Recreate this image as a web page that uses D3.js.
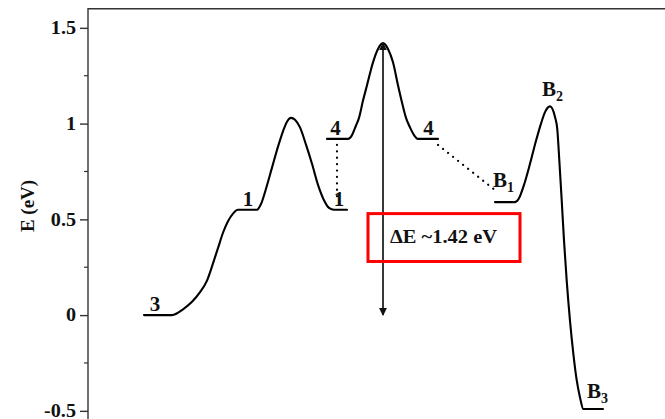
<!DOCTYPE html>
<html>
<head>
<meta charset="utf-8">
<script src="https://cdn.jsdelivr.net/npm/d3@7"></script>
<style>
  body { margin: 0; background: #fff; }
  svg text { font-family: "Liberation Serif", "DejaVu Serif", serif; font-weight: bold; fill: #111; }
</style>
</head>
<body>
<svg id="chart" width="665" height="419"></svg>
<script>
// Energy axis ticks (eV)
const yTicks = [-0.5, 0, 0.5, 1, 1.5];
const yMinorTicks = [-0.25, 0.25, 0.75, 1.25];
const yTickLabels = ["-0.5", "0", "0.5", "1", "1.5"];

// Reaction path, first branch: 3 -> 1 -> TS -> 1
const pathA_rc = [56, 84, 95, 112, 119, 125, 130, 135, 140, 145, 150, 169, 173, 178, 184, 190, 195, 199, 203, 207, 212, 218, 224, 230, 236, 241, 246, 259];
const pathA_E  = [0, 0, 0.03, 0.12, 0.18, 0.27, 0.35, 0.43, 0.49, 0.53, 0.55, 0.55, 0.58, 0.66, 0.77, 0.88, 0.96, 1.01, 1.03, 1.02, 0.98, 0.89, 0.79, 0.68, 0.60, 0.56, 0.55, 0.55];

// Second branch: 4 -> TS -> 4
const pathB_rc = [239, 260, 264, 268, 271, 275, 279, 285, 290, 295, 300, 305, 310, 314, 318, 322, 326, 330, 350];
const pathB_E  = [0.92, 0.92, 0.94, 0.99, 1.03, 1.12, 1.20, 1.32, 1.39, 1.42, 1.39, 1.32, 1.20, 1.11, 1.03, 0.98, 0.94, 0.92, 0.92];

// Third branch: B1 -> B2 -> B3
const pathC_rc = [407, 427, 431, 436, 442, 448, 453, 457, 462, 467, 469.3, 471.3, 473.7, 476, 478.7, 482, 485.3, 488.7, 492, 495.3, 515];
const pathC_E  = [0.59, 0.59, 0.61, 0.68, 0.79, 0.91, 1.00, 1.06, 1.09, 1.035, 0.97, 0.81, 0.60, 0.39, 0.18, -0.03, -0.20, -0.34, -0.43, -0.49, -0.49];

// Dotted connections between equivalent states
const linkFrom_rc = [249, 350];
const linkFrom_E  = [0.92, 0.92];
const linkTo_rc   = [249, 407];
const linkTo_E    = [0.55, 0.59];

// State labels
const stateNames = ["3", "1", "4", "1", "4", "B", "B", "B"];
const stateSubs  = ["", "", "", "", "", "1", "2", "3"];
const state_rc   = [67, 160, 247.5, 251, 340.5, 405, 454, 499];
const state_E    = [0, 0.55, 0.92, 0.55, 0.92, 0.59, 1.09, -0.49];

// Activation energy annotation
const barrierLow = 0;
const barrierHigh = 1.42;
const barrier_rc = 295;
const barrierText = "\u0394E ~1.42 eV";

const svg = d3.select("#chart");

const x = d3.scaleLinear().domain([0, 600]).range([88, 688]);
const y = d3.scaleLinear().domain([-0.6, 1.6]).range([430, 8.7]);

// Frame (left and top edges)
svg.append("path")
  .attr("d", `M${x(0)},${y(-0.6)}V${y(1.6)}H${x(600)}`)
  .attr("fill", "none").attr("stroke", "#333").attr("stroke-width", 1.4);

// Left axis
const yAxis = d3.axisLeft(y)
  .tickValues(yTicks)
  .tickFormat((d, i) => yTickLabels[i])
  .tickSizeInner(8).tickSizeOuter(0).tickPadding(4);
const gy = svg.append("g").attr("transform", `translate(${x(0)},0)`).call(yAxis);
gy.select(".domain").remove();
gy.selectAll(".tick line").attr("stroke", "#333").attr("stroke-width", 1.4);
gy.selectAll(".tick text").attr("font-size", 18).attr("fill", "#111")
  .attr("font-family", "Liberation Serif, serif").attr("font-weight", "bold")
  .attr("transform", "scale(1.12,1)")
  .attr("x", -12 / 1.12);

svg.append("g").selectAll("line").data(yMinorTicks).join("line")
  .attr("x1", x(0) - 4).attr("x2", x(0))
  .attr("y1", d => y(d)).attr("y2", d => y(d))
  .attr("stroke", "#333").attr("stroke-width", 1.2);

// Axis title
svg.append("text")
  .attr("transform", `translate(34,${206}) rotate(-90)`)
  .attr("text-anchor", "middle")
  .attr("font-size", 19)
  .text("E (eV)");

// Energy profile
const line = d3.line().x(d => x(d[0])).y(d => y(d[1])).curve(d3.curveMonotoneX);
const paths = [
  d3.zip(pathA_rc, pathA_E),
  d3.zip(pathB_rc, pathB_E),
  d3.zip(pathC_rc, pathC_E)
];
svg.append("g").selectAll("path").data(paths).join("path")
  .attr("d", line)
  .attr("fill", "none").attr("stroke", "#000").attr("stroke-width", 2.1)
  .attr("stroke-linejoin", "round").attr("stroke-linecap", "round");

// Dotted links
svg.append("g").selectAll("line").data(d3.range(linkFrom_rc.length)).join("line")
  .attr("x1", i => x(linkFrom_rc[i])).attr("y1", i => y(linkFrom_E[i]) + 6)
  .attr("x2", i => x(linkTo_rc[i])).attr("y2", i => y(linkTo_E[i]) - 12)
  .attr("stroke", "#000").attr("stroke-width", 2.2)
  .attr("stroke-dasharray", "0.1,6.3").attr("stroke-linecap", "round");

// State labels
const labels = svg.append("g").selectAll("text").data(d3.range(stateNames.length)).join("text")
  .attr("x", i => x(state_rc[i]))
  .attr("y", i => y(state_E[i]) - (stateSubs[i] ? 0 : 4))
  .attr("text-anchor", i => stateSubs[i] ? "start" : "middle")
  .attr("font-size", 21)
  .attr("font-weight", i => i === 3 ? "normal" : "bold");
labels.each(function(i) {
  const t = d3.select(this);
  if (stateSubs[i]) {
    const dy = i === 5 ? -15 : (i === 6 ? -10 : -11);
    t.attr("y", y(state_E[i]) + dy);
    t.append("tspan").text(stateNames[i]);
    t.append("tspan").attr("font-size", 14).attr("dy", 5).text(stateSubs[i]);
  } else {
    t.text(stateNames[i]);
  }
});

// Activation barrier arrow
const defs = svg.append("defs");
defs.append("marker").attr("id", "head")
  .attr("viewBox", "0 0 10 10").attr("refX", 9).attr("refY", 5)
  .attr("markerWidth", 8).attr("markerHeight", 8)
  .attr("markerUnits", "userSpaceOnUse")
  .attr("orient", "auto-start-reverse")
  .append("path").attr("d", "M0,0L10,5L0,10Z").attr("fill", "#111");
svg.append("line")
  .attr("x1", x(barrier_rc)).attr("x2", x(barrier_rc))
  .attr("y1", y(barrierHigh)).attr("y2", y(barrierLow))
  .attr("stroke", "#222").attr("stroke-width", 1.8)
  .attr("marker-start", "url(#head)").attr("marker-end", "url(#head)");

// Barrier annotation box
svg.append("rect")
  .attr("x", x(280)).attr("y", y(0.53))
  .attr("width", x(432) - x(280)).attr("height", y(0.28) - y(0.53))
  .attr("fill", "none").attr("stroke", "#f00").attr("stroke-width", 3);
svg.append("text")
  .attr("x", x(302)).attr("y", y(0.375))
  .attr("font-size", 19)
  .attr("textLength", 107).attr("lengthAdjust", "spacingAndGlyphs")
  .text(barrierText);
</script>
</body>
</html>
